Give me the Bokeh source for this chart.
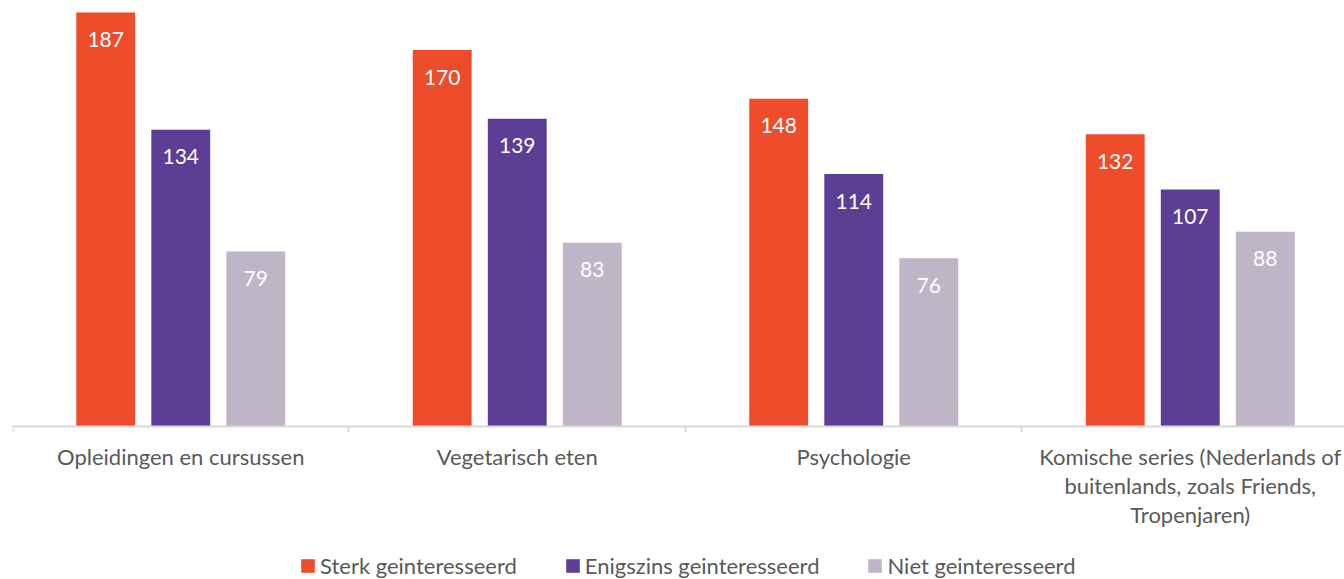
from bokeh.plotting import figure
from bokeh.models import Range1d, FixedTicker, Legend, LegendItem, ColumnDataSource
from bokeh.core.properties import value
from bokeh.embed import file_html
from bokeh.resources import INLINE

categories = ["Opleidingen en cursussen", "Vegetarisch eten", "Psychologie",
              "Komische series (Nederlands of\nbuitenlands, zoals Friends,\nTropenjaren)"]
series = ["Sterk geinteresseerd", "Enigszins geinteresseerd", "Niet geinteresseerd"]
sterk = [187, 170, 148, 132]
enigszins = [134, 139, 114, 107]
niet = [79, 83, 76, 88]
colors = ["#EE4C2B", "#5C3F94", "#BEB6C7"]

FONT = "Lato"
TEXT_COLOR = "#595959"

p = figure(width=1344, height=579, output_backend="svg", toolbar_location=None,
           x_range=Range1d(0, 3.9584), y_range=Range1d(-69.1, 192.4),
           y_axis_location=None, min_border_left=12, min_border_right=0,
           min_border_top=0, min_border_bottom=0)
p.outline_line_color = None
p.xgrid.visible = False
p.ygrid.visible = False
p.background_fill_color = "white"

centers = [i + 0.5 for i in range(len(categories))]
offsets = [-0.223, 0.0, 0.223]
bar_w = 0.175
renderers = []
for vals, off, col, name in zip([sterk, enigszins, niet], offsets, colors, series):
    src = ColumnDataSource(dict(x=[c + off for c in centers], top=vals,
                                lbl=[str(v) for v in vals]))
    r = p.vbar(x="x", top="top", bottom=0, width=bar_w, source=src,
               fill_color=col, line_color=None)
    renderers.append(r)
    p.text(x="x", y="top", text="lbl", source=src, y_offset=27,
           text_align="center", text_baseline="middle",
           text_color="white", text_font=value(FONT), text_font_size="21px")

ax = p.xaxis[0]
ax.fixed_location = 0
ax.ticker = FixedTicker(ticks=centers, minor_ticks=[0, 1, 2, 3, 4])
overrides = {}
for c, lab in zip(centers, categories):
    overrides[c] = lab
    overrides[str(c)] = lab
ax.major_label_overrides = overrides
ax.major_tick_out = 0
ax.major_tick_in = 0
ax.minor_tick_out = 6
ax.minor_tick_in = 0
ax.minor_tick_line_color = "#D9D9D9"
ax.minor_tick_line_width = 2
ax.axis_line_color = "#D9D9D9"
ax.axis_line_width = 2
ax.major_label_standoff = 10
ax.major_label_text_font = FONT
ax.major_label_text_font_size = "22px"
ax.major_label_text_color = TEXT_COLOR
ax.major_label_text_line_height = 1.08

legend = Legend(items=[LegendItem(label=s, renderers=[r]) for s, r in zip(series, renderers)],
                orientation="horizontal", location=(287, 0),
                glyph_width=17, glyph_height=17, label_standoff=4, spacing=47,
                padding=0, margin=0, border_line_color=None, background_fill_alpha=0,
                label_text_font=FONT, label_text_font_size="22px",
                label_text_color=TEXT_COLOR)
p.add_layout(legend, "center")

open("out.html", "w").write(file_html(p, INLINE))
